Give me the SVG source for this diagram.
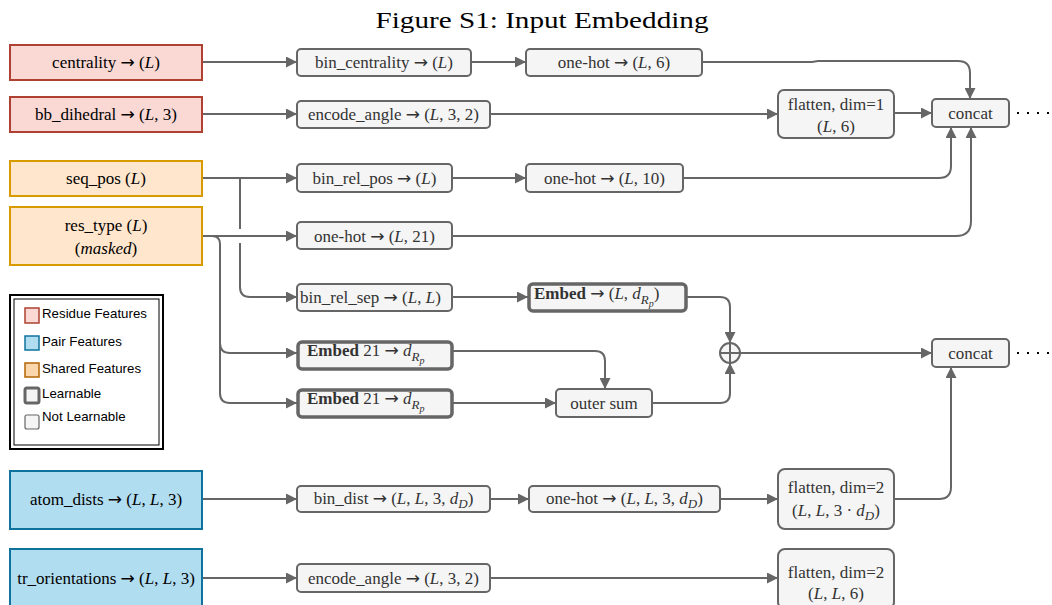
<svg xmlns="http://www.w3.org/2000/svg" width="1052" height="605" viewBox="0 0 1052 605">
  <style>
    .t { font-family: "Liberation Serif", "DejaVu Serif", serif; font-size: 17px; fill: #000; text-anchor: middle; }
    .g { fill: #333333; }
    .s { text-anchor: start; }
    .m { font-style: italic; }
    .b { font-weight: bold; }
    .ar { font-family: "DejaVu Sans", sans-serif; font-size: 17px; }
    .in-res { fill: #fad9d5; stroke: #ae4132; stroke-width: 2; }
    .in-pair { fill: #b1ddf0; stroke: #10739e; stroke-width: 2; }
    .in-sh { fill: #ffe6cc; stroke: #d79b00; stroke-width: 2; }
    .op { fill: #f5f5f5; stroke: #666666; stroke-width: 2; }
    .learn { fill: #f5f5f5; stroke: #666666; stroke-width: 3.5; }
    .edge { fill: none; stroke: #666666; stroke-width: 2; }
    .arr { marker-end: url(#ah); }
    .dots { stroke: #000; stroke-width: 2; stroke-dasharray: 2 8; }
    .lg { font-family: "Liberation Sans", Arial, sans-serif; font-size: 13.3px; fill: #000; }
  </style>
  <defs>
    <marker id="ah" markerUnits="userSpaceOnUse" markerWidth="11" markerHeight="11" viewBox="0 0 11 11" refX="11" refY="5.5" orient="auto">
      <path d="M0,0 L11,5.5 L0,11 z" fill="#666666"/>
    </marker>
  </defs>

  <rect width="1052" height="605" fill="#ffffff"/>

  <text x="542" y="28" class="t" style="font-size:23px" textLength="333" lengthAdjust="spacingAndGlyphs">Figure S1: Input Embedding</text>

  <!-- connectors -->
  <g id="connectors">
    <path class="edge arr" d="M202,62 H297"/>
    <path class="edge arr" d="M471,62 H526"/>
    <path class="edge arr" d="M702,62 H812 L818,61 H958 Q970,61 970,73 V99"/>
    <path class="edge arr" d="M202,114 H297"/>
    <path class="edge arr" d="M490,114 H778"/>
    <path class="edge arr" d="M894,113 H932"/>
    <path class="edge arr" d="M202,178 H297"/>
    <path class="edge arr" d="M452,178 H526"/>
    <path class="edge arr" d="M683,178 H939 Q951,178 951,166 V127"/>
    <path class="edge arr" d="M202,236 H297"/>
    <path class="edge arr" d="M452,236 H956 Q971,236 971,221 V127"/>
    <path class="edge arr" d="M240,178 V229 M240,243 V287 Q240,297 250,297 H297"/>
    <path class="edge arr" d="M204,236 H212 Q220,236 220,244 V343 Q220,353 230,353 H297"/>
    <path class="edge arr" d="M220,343 V393 Q220,403 230,403 H297"/>
    <path class="edge arr" d="M452,297 H528"/>
    <path class="edge arr" d="M686,297 H720 Q730,297 730,307 V343"/>
    <path class="edge arr" d="M452,351 H595 Q605,351 605,361 V389"/>
    <path class="edge arr" d="M452,403 H556"/>
    <path class="edge arr" d="M652,403 H720 Q730,403 730,393 V363"/>
    <path class="edge arr" d="M740,353 H932"/>
    <path class="edge arr" d="M202,499 H297"/>
    <path class="edge arr" d="M490,499 H529"/>
    <path class="edge arr" d="M720,499 H778"/>
    <path class="edge arr" d="M894,499 H939 Q951,499 951,487 V367"/>
    <path class="edge arr" d="M202,578 H297"/>
    <path class="edge arr" d="M490,578 H778"/>
    <line class="dots" x1="1017" y1="113" x2="1052" y2="113"/>
    <line class="dots" x1="1017" y1="353" x2="1052" y2="353"/>
  </g>

  <!-- input features -->
  <g id="in-centrality">
    <rect class="in-res" x="10" y="45" width="192" height="35"/>
    <text class="t" x="106" y="68">centrality <tspan class="ar">→</tspan> (<tspan class="m">L</tspan>)</text>
  </g>
  <g id="in-bb-dihedral">
    <rect class="in-res" x="10" y="97" width="192" height="35"/>
    <text class="t" x="106" y="120">bb_dihedral <tspan class="ar">→</tspan> (<tspan class="m">L</tspan>, 3)</text>
  </g>
  <g id="in-seq-pos">
    <rect class="in-sh" x="10" y="161" width="192" height="35"/>
    <text class="t" x="106" y="184">seq_pos (<tspan class="m">L</tspan>)</text>
  </g>
  <g id="in-res-type">
    <rect class="in-sh" x="10" y="207" width="192" height="58"/>
    <text class="t" x="106" y="231">res_type (<tspan class="m">L</tspan>)</text>
    <text class="t" x="106" y="254">(<tspan class="m">masked</tspan>)</text>
  </g>
  <g id="in-atom-dists">
    <rect class="in-pair" x="10" y="471" width="192" height="58"/>
    <text class="t" x="106" y="505">atom_dists <tspan class="ar">→</tspan> (<tspan class="m">L</tspan>, <tspan class="m">L</tspan>, 3)</text>
  </g>
  <g id="in-tr-orientations">
    <rect class="in-pair" x="10" y="549" width="192" height="62"/>
    <text class="t" x="106" y="584">tr_orientations <tspan class="ar">→</tspan> (<tspan class="m">L</tspan>, <tspan class="m">L</tspan>, 3)</text>
  </g>

  <!-- residue branch -->
  <g id="bin-centrality">
    <rect class="op" x="297" y="49" width="174" height="27" rx="4"/>
    <text class="t g" x="384" y="68">bin_centrality <tspan class="ar">→</tspan> (<tspan class="m">L</tspan>)</text>
  </g>
  <g id="onehot-6">
    <rect class="op" x="526" y="49" width="176" height="27" rx="4"/>
    <text class="t g" x="614" y="68">one-hot  <tspan class="ar">→</tspan> (<tspan class="m">L</tspan>, 6)</text>
  </g>
  <g id="encode-angle-1">
    <rect class="op" x="297" y="101" width="193" height="27" rx="4"/>
    <text class="t g" x="393.5" y="120">encode_angle <tspan class="ar">→</tspan> (<tspan class="m">L</tspan>, 3, 2)</text>
  </g>
  <g id="flatten-1">
    <rect class="op" x="778" y="90" width="116" height="48" rx="6"/>
    <text class="t g" x="836" y="110">flatten, dim=1</text>
    <text class="t g" x="836" y="132">(<tspan class="m">L</tspan>, 6)</text>
  </g>
  <g id="concat-1">
    <rect class="op" x="932" y="99" width="77" height="28" rx="4"/>
    <text class="t g" x="970.5" y="119">concat</text>
  </g>
  <g id="bin-rel-pos">
    <rect class="op" x="297" y="164" width="155" height="28" rx="4"/>
    <text class="t g" x="374.5" y="184">bin_rel_pos <tspan class="ar">→</tspan> (<tspan class="m">L</tspan>)</text>
  </g>
  <g id="onehot-10">
    <rect class="op" x="526" y="164" width="157" height="28" rx="4"/>
    <text class="t g" x="604.5" y="184">one-hot  <tspan class="ar">→</tspan> (<tspan class="m">L</tspan>, 10)</text>
  </g>
  <g id="onehot-21">
    <rect class="op" x="297" y="222" width="155" height="27" rx="4"/>
    <text class="t g" x="374.5" y="242">one-hot  <tspan class="ar">→</tspan> (<tspan class="m">L</tspan>, 21)</text>
  </g>

  <!-- relative position / residue pair branch -->
  <g id="bin-rel-sep">
    <rect class="op" x="297" y="284" width="155" height="27" rx="4"/>
    <text class="t g s" x="300" y="303">bin_rel_sep <tspan class="ar">→</tspan> (<tspan class="m">L</tspan>, <tspan class="m">L</tspan>)</text>
  </g>
  <g id="embed-sep">
    <rect class="learn" x="529" y="284" width="157" height="27" rx="4"/>
    <text class="t g s" x="534" y="299"><tspan class="b">Embed</tspan>  <tspan class="ar">→</tspan> (<tspan class="m">L</tspan>, <tspan class="m">d</tspan><tspan class="m" dy="5" style="font-size:13px">R</tspan><tspan class="m" dy="3" style="font-size:10px">p</tspan><tspan dy="-8">)</tspan></text>
  </g>
  <g id="embed-21-a">
    <rect class="learn" x="298" y="342" width="154" height="27" rx="4"/>
    <text class="t g s" x="307" y="356"><tspan class="b">Embed</tspan> 21 <tspan class="ar">→</tspan> <tspan class="m">d</tspan><tspan class="m" dy="5" style="font-size:13px">R</tspan><tspan class="m" dy="3" style="font-size:10px">p</tspan></text>
  </g>
  <g id="embed-21-b">
    <rect class="learn" x="298" y="390" width="154" height="27" rx="4"/>
    <text class="t g s" x="307" y="404"><tspan class="b">Embed</tspan> 21 <tspan class="ar">→</tspan> <tspan class="m">d</tspan><tspan class="m" dy="5" style="font-size:13px">R</tspan><tspan class="m" dy="3" style="font-size:10px">p</tspan></text>
  </g>
  <g id="outer-sum">
    <rect class="op" x="556" y="389" width="96" height="28" rx="4"/>
    <text class="t g" x="604" y="409">outer sum</text>
  </g>
  <g id="plus">
    <circle cx="730" cy="353" r="10" fill="#f5f5f5" stroke="#666666" stroke-width="2"/>
    <path d="M720,353 H740 M730,343 V363" stroke="#666666" stroke-width="2"/>
  </g>
  <g id="concat-2">
    <rect class="op" x="932" y="339" width="77" height="28" rx="4"/>
    <text class="t g" x="970.5" y="359">concat</text>
  </g>

  <!-- pair branch -->
  <g id="bin-dist">
    <rect class="op" x="297" y="486" width="193" height="26" rx="4"/>
    <text class="t g" x="393.5" y="504">bin_dist <tspan class="ar">→</tspan> (<tspan class="m">L</tspan>, <tspan class="m">L</tspan>, 3, <tspan class="m">d</tspan><tspan class="m" dy="4" style="font-size:13px">D</tspan><tspan dy="-4">)</tspan></text>
  </g>
  <g id="onehot-dist">
    <rect class="op" x="529" y="486" width="191" height="26" rx="4"/>
    <text class="t g" x="624.5" y="504">one-hot  <tspan class="ar">→</tspan> (<tspan class="m">L</tspan>, <tspan class="m">L</tspan>, 3, <tspan class="m">d</tspan><tspan class="m" dy="4" style="font-size:13px">D</tspan><tspan dy="-4">)</tspan></text>
  </g>
  <g id="flatten-2">
    <rect class="op" x="778" y="469" width="116" height="60" rx="7"/>
    <text class="t g" x="836" y="493">flatten, dim=2</text>
    <text class="t g" x="836" y="516">(<tspan class="m">L</tspan>, <tspan class="m">L</tspan>, 3 · <tspan class="m">d</tspan><tspan class="m" dy="4" style="font-size:13px">D</tspan><tspan dy="-4">)</tspan></text>
  </g>
  <g id="encode-angle-2">
    <rect class="op" x="297" y="564" width="193" height="28" rx="4"/>
    <text class="t g" x="393.5" y="584">encode_angle <tspan class="ar">→</tspan> (<tspan class="m">L</tspan>, 3, 2)</text>
  </g>
  <g id="flatten-3">
    <rect class="op" x="778" y="549" width="116" height="60" rx="7"/>
    <text class="t g" x="836" y="578">flatten, dim=2</text>
    <text class="t g" x="836" y="599">(<tspan class="m">L</tspan>, <tspan class="m">L</tspan>, 6)</text>
  </g>

  <!-- legend -->
  <g id="legend">
    <rect x="10" y="295" width="153" height="154" fill="#ffffff" stroke="#000" stroke-width="2"/>
    <rect x="14" y="299" width="145" height="146" fill="none" stroke="#000" stroke-width="1"/>
    <rect x="25" y="308" width="14" height="15" fill="#fad9d5" stroke="#ae4132" stroke-width="1.5"/>
    <text class="lg" x="42" y="318">Residue Features</text>
    <rect x="25" y="336" width="14" height="14" fill="#b1ddf0" stroke="#10739e" stroke-width="1.5"/>
    <text class="lg" x="42" y="346">Pair Features</text>
    <rect x="25" y="363" width="14" height="14" fill="#fad7ac" stroke="#b46504" stroke-width="1.5"/>
    <text class="lg" x="42" y="373">Shared Features</text>
    <rect x="25" y="388" width="14" height="15" rx="2" fill="#f5f5f5" stroke="#666666" stroke-width="3"/>
    <text class="lg" x="42" y="398">Learnable</text>
    <rect x="25" y="415" width="14" height="14" rx="2" fill="#f5f5f5" stroke="#666666" stroke-width="1.2"/>
    <text class="lg" x="42" y="421">Not Learnable</text>
  </g>
</svg>
